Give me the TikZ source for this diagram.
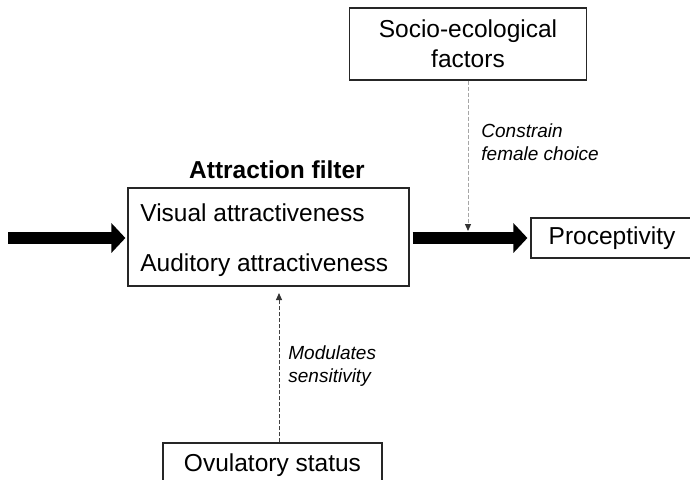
\documentclass[tikz,border=0pt]{standalone}
\usepackage{fontspec}
\setmainfont{Liberation Sans}
\usetikzlibrary{arrows.meta}

\begin{document}
\begin{tikzpicture}[x=0.5pt, y=-0.5pt,
  box/.style={draw=black!85, line width=0.6pt, inner sep=0pt, font=\fontsize{12.25}{15}\selectfont},
  txt/.style={inner sep=0pt, font=\fontsize{12.25}{15}\selectfont},
  note/.style={inner sep=0pt, anchor=west, align=left, font=\fontsize{9.5}{11.5}\selectfont\itshape},
  fat/.style={line width=6pt, -{Triangle[length=7pt, width=14.5pt]}},
  thin/.style={line width=0.5pt, dash pattern=on 2pt off 1pt, -{Triangle[length=3.5pt, width=3pt, black!80]}}]

\useasboundingbox (0,0) rectangle (690,479);

\node[box, minimum width=140.5pt, minimum height=49pt] (filter) at (268.5,237) {};
\node[txt, font=\fontsize{12.25}{15}\selectfont\bfseries] (title) at (277,170) {Attraction filter};
\node[txt, anchor=west] (visual) at (140,213) {Visual attractiveness};
\node[txt, anchor=west] (auditory) at (140,265) {Auditory attractiveness};

\node[box, minimum width=81pt, minimum height=20pt] (procept) at (612,238) {Proceptivity};
\node[box, minimum width=118.5pt, minimum height=36pt, align=center] (socio) at (468,44) {Socio-ecological\\factors};
\node[box, minimum width=109.5pt, minimum height=22pt] (ovul) at (272.5,465) {Ovulatory status};

\coordinate (source) at (8,238);
\coordinate (meet) at (468,231);
\coordinate (hit) at (279,286);

\draw[fat, shorten >=1pt] (source) -- (source -| filter.west);
\draw[fat, shorten <=1.5pt, shorten >=1.5pt] (procept.west -| filter.east) -- (procept.west);

\draw[thin, gray!70] (socio.south) -- (meet);
\draw[thin, black!75, shorten >=3.5pt] (hit |- ovul.north) -- (hit);

\node[note] (constrain) at (481,142) {Constrain\\female choice};
\node[note] (modulates) at (288,366.5) {Modulates\\sensitivity};

\end{tikzpicture}
\end{document}
